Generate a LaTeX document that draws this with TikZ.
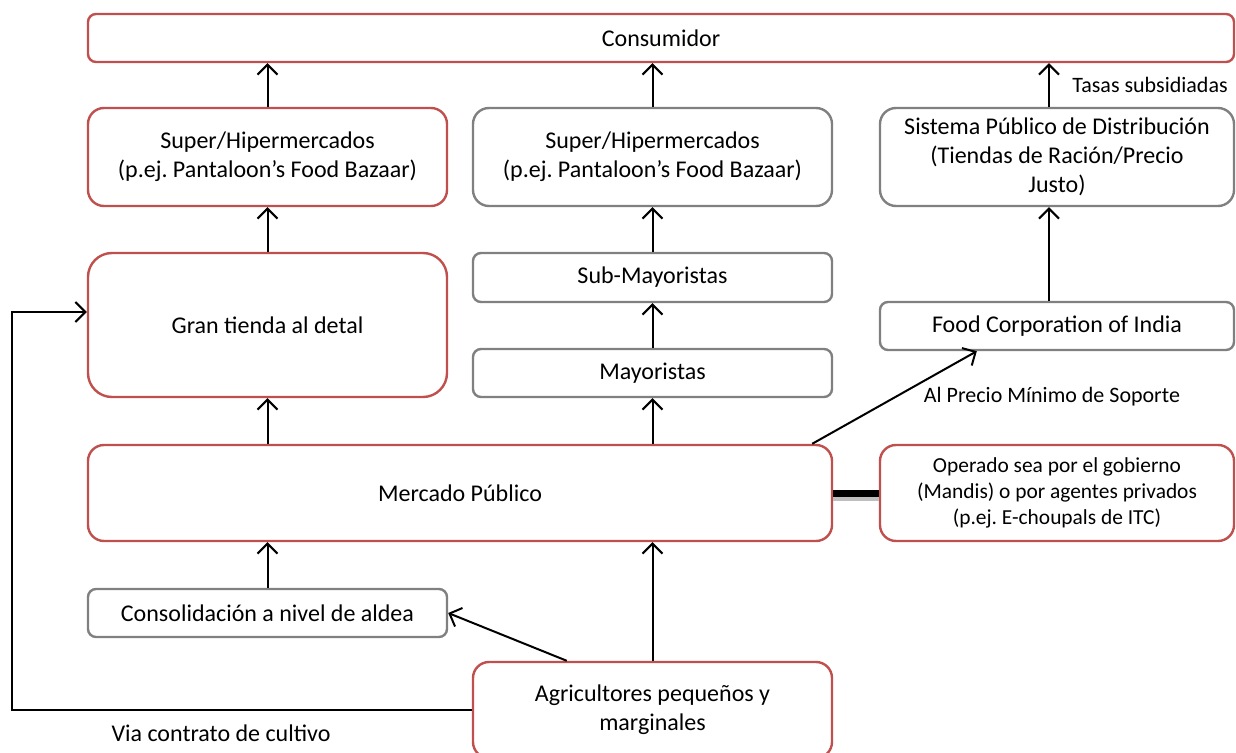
\documentclass[tikz,border=0pt]{standalone}
\usepackage{fontspec}
\setmainfont{Carlito}
\frenchspacing
\usetikzlibrary{arrows.meta}

\definecolor{boxred}{RGB}{192,80,77}
\definecolor{boxgray}{RGB}{128,128,128}

\tikzset{
  box/.style={draw, line width=1.2pt, align=center, inner sep=2pt, font=\fontsize{12}{14.5}\selectfont},
  redbox/.style={box, draw=boxred},
  graybox/.style={box, draw=boxgray},
  flow/.style={-{Straight Barb[length=5pt,width=10pt]}, line width=1pt},
  note/.style={font=\fontsize{11}{13}\selectfont}
}

\begin{document}
\begin{tikzpicture}[x=0.5pt,y=-0.5pt]
    \useasboundingbox (0,0) rectangle (1236,753);

    % Top row
    \node[redbox, minimum width=573pt, minimum height=24pt, rounded corners=4pt] (cons) at (661,38) {Consumidor};

    % Retail chain
    \node[redbox, minimum width=179.5pt, minimum height=49pt, rounded corners=8pt] (sup1) at (267.5,157) {Super/Hipermercados\\(p.ej. Pantaloon’s Food Bazaar)};
    \node[redbox, minimum width=179.5pt, minimum height=72pt, rounded corners=12pt] (gran) at (267.5,325) {Gran tienda al detal};

    % Wholesale chain
    \node[graybox, minimum width=179.5pt, minimum height=49pt, rounded corners=8pt] (sup2) at (652.5,157) {Super/Hipermercados\\(p.ej. Pantaloon’s Food Bazaar)};
    \node[graybox, minimum width=179.5pt, minimum height=24.5pt, rounded corners=4pt] (submay) at (652.5,277.5) {Sub-Mayoristas};
    \node[graybox, minimum width=179.5pt, minimum height=24pt, rounded corners=4pt] (may) at (652.5,373) {Mayoristas};

    % Public distribution
    \node[graybox, minimum width=177pt, minimum height=49pt, rounded corners=8pt] (pds) at (1057,157) {Sistema Público de Distribución\\(Tiendas de Ración/Precio\\Justo)};
    \node[graybox, minimum width=177pt, minimum height=24pt, rounded corners=4pt] (fci) at (1057,326) {Food Corporation of India};

    % Market and farmers
    \node[redbox, minimum width=372pt, minimum height=48pt, rounded corners=8pt] (merc) at (460,493) {Mercado Público};
    \node[redbox, minimum width=177pt, minimum height=48pt, rounded corners=8pt, font=\fontsize{10.7}{13}\selectfont] (oper) at (1057,493) {Operado sea por el gobierno\\(Mandis) o por agentes privados\\(p.ej. E-choupals de ITC)};
    \node[graybox, minimum width=179.5pt, minimum height=24pt, rounded corners=4pt] (consol) at (267.5,613) {Consolidación a nivel de aldea};
    \node[redbox, minimum width=179.5pt, minimum height=48pt, rounded corners=8pt] (agri) at (652.5,710) {Agricultores pequeños y\\marginales};

    % Arrows up to the consumer
    \draw[flow] (sup1.north) -- (sup1.north |- cons.south);
    \draw[flow] (sup2.north) -- (sup2.north |- cons.south);
    \draw[flow] ([xshift=-4pt]pds.north) -- ([xshift=-4pt]pds.north |- cons.south);
    \draw[flow] (gran.north) -- (sup1.south);
    \draw[flow] (submay.north) -- (sup2.south);
    \draw[flow] (may.north) -- (submay.south);
    \draw[flow] ([xshift=-4pt]fci.north) -- ([xshift=-4pt]pds.south);

    % Arrows out of the market
    \draw[flow] (merc.north -| gran.south) -- (gran.south);
    \draw[flow] (merc.north -| may.south) -- (may.south);
    \draw[flow] ([xshift=-10.5pt]merc.north east) -- ([xshift=49pt]fci.south west);
    \draw[line width=3.5pt, black!25] ([yshift=-2pt]merc.east) -- ([yshift=-2pt]oper.west);
    \draw[line width=3.5pt] (merc.east) -- (oper.west);

    % Arrows from the farmers
    \draw[flow] (consol.north) -- (consol.north |- merc.south);
    \draw[flow] (agri.north) -- (agri.north |- merc.south);
    \draw[flow] ([xshift=47.5pt]agri.north west) -- (consol.east);
    \coordinate (bend) at (12,312);
    \draw[flow] (agri.west) -| (bend) -- (bend -| gran.west);

    % Labels
    \node[note] (tasas) at (1150,85) {Tasas subsidiadas};
    \node[note] (msp) at (1052,397) {Al Precio Mínimo de Soporte};
    \node[note, font=\fontsize{12}{14}\selectfont] (via) at (221,733) {Via contrato de cultivo};
\end{tikzpicture}
\end{document}
